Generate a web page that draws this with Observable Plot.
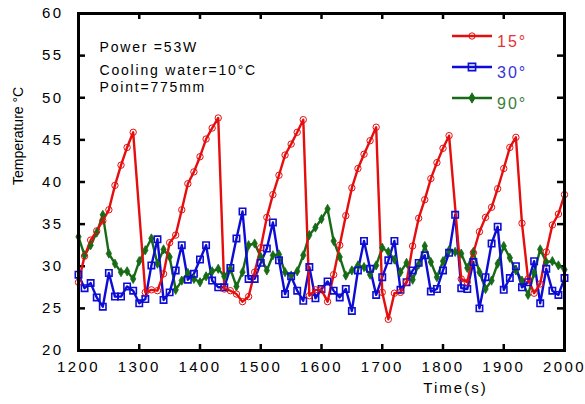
<!DOCTYPE html>
<html><head><meta charset="utf-8">
<script src="https://cdn.jsdelivr.net/npm/d3@7"></script>
<script src="https://cdn.jsdelivr.net/npm/@observablehq/plot@0.6"></script>
<style>
body{margin:0;background:#fff}
svg{font-family:"Liberation Sans",Arial,sans-serif}
</style>
</head><body><div id="chart"></div>
<script>
// ---- data ----
const time15 = [1200,1210,1220,1230,1240,1250,1260,1270,1280,1290,
  1310,1320,1330,1340,1350,1360,1370,1380,1390,1400,1410,1420,1430,
  1440,1450,1460,1470,1480,1490,1500,1510,1520,1530,1540,1550,1560,1570,
  1580,1590,1600,1610,1620,1630,1640,1650,1660,1670,1680,1690,
  1700,1710,1720,1730,1740,1750,1760,1770,1780,1790,1800,1810,
  1830,1840,1850,1860,1870,1880,1890,1900,1910,1920,
  1930,1940,1950,1960,1970,1980,1990,2000];
const temp15 = [28.1,31.2,33.1,34.2,35.4,36.7,39.6,42.0,44.1,45.9,
  26.9,27.2,27.1,29.1,32.8,33.7,36.7,39.8,41.2,43.0,45.1,46.4,47.6,
  27.3,27.1,26.7,25.8,26.4,29.3,32.2,35.8,38.5,40.8,43.2,44.5,45.9,47.4,
  26.5,27.2,27.2,25.8,29.0,32.5,36.0,39.3,41.6,43.3,44.9,46.5,
  26.9,23.7,26.8,26.9,28.1,32.4,35.7,37.9,40.4,42.3,44.0,45.5,
  28.5,28.1,31.6,34.1,35.8,37.0,39.2,41.6,44.1,45.3,
  35.1,28.5,26.8,27.9,31.7,34.9,36.2,38.5];

const time30 = [1200,1210,1220,1230,1240,1250,1260,1270,1280,1290,1300,1310,1320,1330,1340,1350,1360,1370,1380,1390,
  1400,1410,1420,1430,1440,1450,1460,1470,1480,1490,1500,1510,1520,1530,1540,1550,1560,1570,1580,1590,
  1600,1610,1620,1630,1640,1650,1660,1670,1680,1690,1700,1710,1720,1730,1740,1750,1760,1770,1780,1790,
  1800,1810,1820,1830,1840,1850,1860,1870,1880,1890,1900,1910,1920,1930,1940,1950,1960,1970,1980,1990,2000];
const temp30 = [29.0,27.4,28.0,26.3,25.2,29.2,26.4,26.4,27.6,27.1,25.6,26.1,30.1,33.2,26.0,26.9,29.5,32.5,28.4,29.1,
  30.8,32.5,28.3,27.5,27.5,29.8,33.3,36.5,28.5,28.5,30.4,32.1,35.2,30.7,26.7,28.8,27.1,25.9,29.9,26.2,
  27.3,28.2,27.1,26.3,27.3,24.7,29.5,33.0,29.7,26.6,28.7,30.7,33.0,27.2,28.1,29.5,30.4,31.3,27.0,27.3,
  29.5,31.6,36.1,27.4,27.3,30.5,25.0,28.7,32.7,34.7,27.2,28.6,30.0,27.5,28.1,30.6,25.6,29.7,27.1,26.6,28.6];

const time90 = time30;
const temp90 = [33.5,31.3,32.5,34.0,36.1,31.5,30.3,29.3,29.4,28.5,30.6,31.9,33.3,30.3,32.0,31.1,27.2,28.3,29.2,28.5,
  28.1,28.8,29.4,29.7,28.8,29.7,27.6,29.3,32.5,32.7,31.1,29.5,31.3,31.4,29.3,28.9,29.4,31.3,33.7,34.6,
  35.6,36.8,33.0,31.1,28.9,29.5,30.1,29.9,29.0,30.1,32.2,31.7,30.8,29.3,30.4,28.4,30.2,32.4,30.5,28.7,
  30.6,31.9,31.7,31.5,29.8,31.7,29.3,27.3,28.3,30.3,32.4,31.0,29.5,28.3,26.6,29.2,32.0,30.5,30.6,30.1,29.6];

const xTicks = [1200,1300,1400,1500,1600,1700,1800,1900,2000];
const yTicks = [20,25,30,35,40,45,50,55,60];
const seriesNames = ["15°","30°","90°"];
const notes = ["Power =53W","Cooling water=10°C","Point=775mm"];

// ---- build ----
const colors = ["#e60d0d","#0c0cd4","#176b17"];
const textColors = ["#e83030","#3434d8","#3a7d3a"];
const mk = (ts, vs) => ts.map((t,i) => ({t, v: vs[i]}));
const s15 = mk(time15,temp15), s30 = mk(time30,temp30), s90 = mk(time90,temp90);

const W = 585, H = 404, mL = 78, mR = 21, mT = 13, mB = 54;
const pw = W - mL - mR, ph = H - mT - mB;
const inner = xTicks.slice(1,-1), innerY = yTicks.slice(1,-1);
const noteDy = [29, 52, 69];

const chart = Plot.plot({
  width: W, height: H,
  marginLeft: mL, marginRight: mR, marginTop: mT, marginBottom: mB,
  style: {fontSize: "15px", fontFamily: "'Liberation Sans', Arial, sans-serif", background: "#fff", color: "#000"},
  x: {domain: [1200,2000]},
  y: {domain: [20,60]},
  marks: [
    Plot.axisX({ticks: xTicks, tickSize: 0, tickPadding: 11, label: null, tickFormat: d => String(d)}),
    Plot.axisY({ticks: yTicks, tickSize: 0, tickPadding: 15, label: null}),
    Plot.ruleX(inner, {x: d => d, insetTop: ph - 6, strokeWidth: 2.5}),
    Plot.ruleX(inner, {x: d => d, insetBottom: ph - 6, strokeWidth: 2.5}),
    Plot.ruleY(innerY, {y: d => d, insetRight: pw - 7, strokeWidth: 2.5}),
    Plot.ruleY(innerY, {y: d => d, insetLeft: pw - 7, strokeWidth: 2.5}),
    Plot.line(s90, {x: "t", y: "v", stroke: colors[2], strokeWidth: 2.4}),
    Plot.line(s30, {x: "t", y: "v", stroke: colors[1], strokeWidth: 2.4}),
    Plot.line(s15, {x: "t", y: "v", stroke: colors[0], strokeWidth: 2.4}),
    Plot.dot(s90, {x: "t", y: "v", symbol: "diamond", r: 2.8, fill: colors[2], stroke: colors[2], strokeWidth: 0.8}),
    Plot.dot(s30, {x: "t", y: "v", symbol: "square", r: 3.6, fill: "none", stroke: colors[1], strokeWidth: 1.6}),
    Plot.dot(s15, {x: "t", y: "v", symbol: "circle", r: 3.2, fill: "none", stroke: colors[0], strokeWidth: 1}),
    Plot.frame({stroke: "#000", strokeWidth: 3}),
    ...notes.map((n, i) => Plot.text([n], {frameAnchor: "top-left", text: d => d, dx: 21, dy: noteDy[i], textAnchor: "start", fontSize: 14, className: "note"})),
    Plot.text(["Time(s)"], {frameAnchor: "bottom", text: d => d, dx: 134, dy: 42, fontSize: 15, className: "xlab"}),
    Plot.text(["Temperature °C"], {frameAnchor: "left", text: d => d, dx: -60, dy: 3, rotate: -90, fontSize: 14})
  ]
});

const svg = d3.select(chart);
svg.selectAll(".note text").style("letter-spacing", "1.8px");
svg.selectAll("g[aria-label='x-axis tick label'] text, g[aria-label='y-axis tick label'] text").style("letter-spacing","2.4px");
svg.selectAll(".xlab text").style("letter-spacing","2px");

// legend
const lg = svg.append("g").attr("text-anchor", "start");
const lgY = [36, 67, 98];
const syms = [d3.symbolCircle, d3.symbolSquare, d3.symbolDiamond];
seriesNames.forEach((name, i) => {
  lg.append("line").attr("x1", 452).attr("x2", 492).attr("y1", lgY[i]).attr("y2", lgY[i])
    .attr("stroke", colors[i]).attr("stroke-width", 2.4);
  const size = i === 0 ? Math.PI*3.2*3.2 : i === 1 ? 7.2*7.2 : 30;
  lg.append("path").attr("d", d3.symbol(syms[i], size)())
    .attr("transform", `translate(472,${lgY[i]})`)
    .attr("fill", i === 2 ? colors[i] : "none").attr("stroke", colors[i]).attr("stroke-width", i===1?1.6:1);
  lg.append("text").attr("x", 497).attr("y", lgY[i] + 11).attr("fill", textColors[i])
    .attr("font-size", 16).style("letter-spacing","2px").text(name);
});

document.getElementById("chart").appendChild(chart);
</script>
</body></html>
